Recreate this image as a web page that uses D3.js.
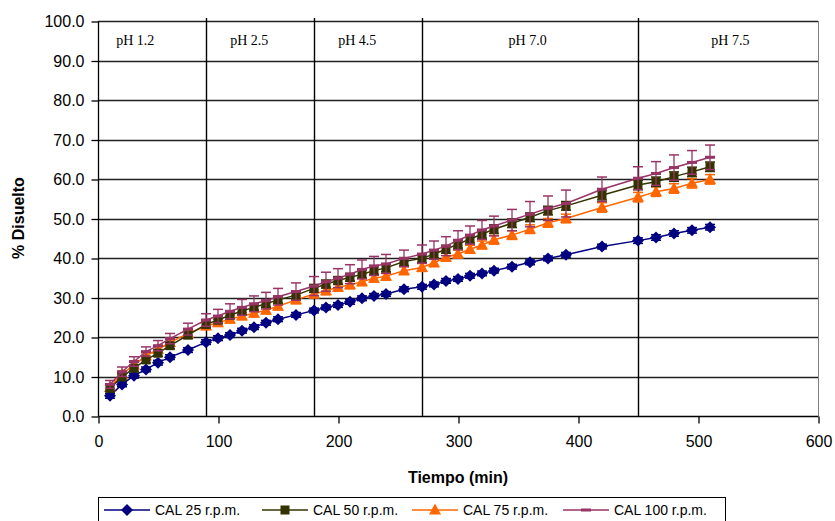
<!DOCTYPE html>
<html><head><meta charset="utf-8">
<script src="https://cdn.jsdelivr.net/npm/d3@7"></script>
<style>body{margin:0;background:#fff}svg{display:block}</style>
</head><body><svg id="c" width="835" height="521"></svg>
<script>
const times = [10,20,30,40,50,60,75,90,100,110,120,130,140,150,165,180,190,200,210,220,230,240,255,270,280,290,300,310,320,330,345,360,375,390,420,450,465,480,495,510];
const cal25 = [5.1,8.0,10.2,11.8,13.5,14.9,16.7,18.7,19.7,20.5,21.6,22.5,23.6,24.5,25.6,26.7,27.5,28.1,28.9,29.8,30.4,30.9,32.1,32.7,33.3,34.2,34.7,35.5,36.1,36.8,37.8,38.9,39.9,40.8,42.9,44.4,45.2,46.2,47.0,47.8];
const cal50 = [7.0,9.9,12.1,14.2,15.9,17.8,20.5,23.2,24.3,25.5,26.6,27.5,28.4,29.4,30.6,32.3,33.4,34.3,35.1,35.9,36.8,37.5,39.1,39.9,41.0,42.2,43.5,44.8,46.0,47.3,48.8,50.3,52.0,53.2,55.9,58.5,59.3,60.6,61.8,63.1];
const cal75 = [7.2,10.6,12.9,15.2,16.9,18.6,20.9,22.8,23.6,24.5,25.3,26.0,26.8,27.8,29.4,30.9,31.7,32.6,33.2,34.0,34.9,35.4,36.8,37.6,38.8,40.2,41.0,42.2,43.3,44.6,45.8,47.3,48.9,50.0,52.8,55.4,56.8,57.6,58.9,59.9];
const cal100 = [8.0,11.2,13.8,16.3,17.8,19.6,22.0,24.3,25.3,26.5,27.5,28.4,29.2,30.2,31.5,32.9,34.0,34.9,35.9,37.1,38.0,38.5,39.9,41.0,42.0,43.0,44.5,45.8,47.1,48.1,49.6,51.1,52.6,53.8,57.4,60.2,61.4,62.9,64.2,65.5];
const sd25 = [0.6,0.6,0.6,0.6,0.6,0.6,0.6,0.6,0.6,0.6,0.6,0.6,0.6,0.6,0.6,0.6,0.6,0.6,0.6,0.6,0.6,0.6,0.6,0.6,0.6,0.6,0.6,0.6,0.6,0.6,0.6,0.6,0.6,0.6,0.6,0.7,0.7,0.7,0.7,0.7];
const sd50 = [0.8,0.8,0.8,0.8,0.8,0.8,0.9,0.9,0.9,0.9,0.9,0.9,0.9,0.9,1.0,1.0,1.0,1.0,1.0,1.0,1.0,1.0,1.0,1.0,1.0,1.0,1.0,1.0,1.0,1.1,1.1,1.1,1.1,1.1,1.2,1.2,1.2,1.2,1.2,1.2];
const sd75 = [0.8,0.8,0.8,0.8,0.8,0.8,0.9,0.9,0.9,0.9,0.9,0.9,0.9,0.9,1.0,1.0,1.0,1.0,1.0,1.0,1.0,1.0,1.0,1.0,1.0,1.0,1.0,1.0,1.0,1.1,1.1,1.1,1.1,1.1,1.2,1.2,1.2,1.2,1.2,1.2];
const sd100 = [1.0,1.2,1.2,1.2,1.3,1.3,1.5,1.6,1.7,1.9,2.0,2.0,2.1,2.1,2.2,2.4,2.4,2.4,2.4,2.4,2.4,2.4,2.1,2.3,2.3,2.4,2.4,2.3,2.4,2.5,2.7,3.2,3.1,3.4,3.1,2.9,3.0,3.2,3.0,3.1];
const seriesNames = ["CAL 25 r.p.m.","CAL 50 r.p.m.","CAL 75 r.p.m.","CAL 100 r.p.m."];
const seriesColors = ["#000080","#333300","#FF6600","#993366"];
const markerTypes = ["diamond","square","triangle","dash"];
const xTicks = [0,100,200,300,400,500,600];
const yTicks = [0,10,20,30,40,50,60,70,80,90,100];
const phBounds = [90,180,270,450];
const phLabels = ["pH 1.2","pH 2.5","pH 4.5","pH 7.0","pH 7.5"];
const phLabelTimes = [31,126,216,358,527];

const svg = d3.select("#c");
const L=98, R=818, T=21, B=416;
const x = d3.scaleLinear().domain([0,600]).range([L,R]);
const y = d3.scaleLinear().domain([0,100]).range([B,T]);

// gridlines
svg.append("g").selectAll("line").data(yTicks.filter(d=>d>0)).join("line")
  .attr("x1",L).attr("x2",R).attr("y1",d=>Math.round(y(d))+0.5).attr("y2",d=>Math.round(y(d))+0.5)
  .attr("stroke","#202020").attr("stroke-width",1.4);
// right border
svg.append("line").attr("x1",R+0.5).attr("x2",R+0.5).attr("y1",T).attr("y2",B).attr("stroke","#808080").attr("stroke-width",1);
// pH lines
svg.append("g").selectAll("line").data(phBounds).join("line")
  .attr("x1",d=>Math.round(x(d))+0.5).attr("x2",d=>Math.round(x(d))+0.5).attr("y1",T-3).attr("y2",B)
  .attr("stroke","#000").attr("stroke-width",1.4);
svg.append("g").selectAll("text").data(phLabels).join("text")
  .attr("x",(d,i)=>x(phLabelTimes[i])).attr("y",45).attr("text-anchor","middle")
  .attr("font-family","'Liberation Serif','Times New Roman',serif").attr("font-size",14).attr("fill","#000")
  .text(d=>d);

// axes
const yAxis = d3.axisLeft(y).tickValues(yTicks).tickSize(7).tickPadding(7).tickFormat(d3.format(".1f"));
const gy = svg.append("g").attr("transform",`translate(${L+0.5},0.5)`).call(yAxis);
const xAxis = d3.axisBottom(x).tickValues(xTicks).tickSize(7).tickPadding(12).tickFormat(d3.format("d"));
const gx = svg.append("g").attr("transform",`translate(0.5,${B+0.5})`).call(xAxis);
[gx,gy].forEach(g=>{
  g.select(".domain").attr("stroke","#000").attr("stroke-width",1.3);
  g.selectAll(".tick line").attr("stroke","#000").attr("stroke-width",1.3);
  g.selectAll("text").attr("font-family","'Liberation Sans',Arial,sans-serif").attr("font-size",16).attr("fill","#000");
});
gx.select(".domain").attr("d",`M${L},0H${R}`);
gy.select(".domain").attr("d",`M0,${T}V${B}`);

svg.append("text").attr("x",458).attr("y",483).attr("text-anchor","middle")
  .attr("font-family","'Liberation Sans',Arial,sans-serif").attr("font-weight","bold").attr("font-size",16).text("Tiempo (min)");
svg.append("text").attr("transform","translate(24,218) rotate(-90)").attr("text-anchor","middle")
  .attr("font-family","'Liberation Sans',Arial,sans-serif").attr("font-weight","bold").attr("font-size",16).text("% Disuelto");

function drawMarker(g, type, color, cx, cy){
  if(type==="diamond") g.append("path").attr("d",`M${cx},${cy-6}L${cx+6},${cy}L${cx},${cy+6}L${cx-6},${cy}Z`).attr("fill",color);
  else if(type==="square") g.append("rect").attr("x",cx-4.5).attr("y",cy-4.5).attr("width",9).attr("height",9).attr("fill",color);
  else if(type==="triangle") g.append("path").attr("d",`M${cx},${cy-6.5}L${cx+6},${cy+4.5}L${cx-6},${cy+4.5}Z`).attr("fill",color);
  else g.append("rect").attr("x",cx-5).attr("y",cy-1.5).attr("width",10).attr("height",3).attr("fill",color);
}

const allVals=[cal25,cal50,cal75,cal100];
const allSd=[sd25,sd50,sd75,sd100];
const line = d3.line().x(d=>x(d[0])).y(d=>y(d[1]));
[0,2,1,3].forEach(si=>{
  const g=svg.append("g");
  const pts=times.map((t,i)=>[t,allVals[si][i]]);
  const col=seriesColors[si];
  pts.forEach((p,i)=>{
    const s=allSd[si][i], cx=x(p[0]);
    g.append("line").attr("x1",cx).attr("x2",cx).attr("y1",y(p[1]+s)).attr("y2",y(p[1]-s)).attr("stroke",col).attr("stroke-width",1.3);
    [p[1]+s,p[1]-s].forEach(v=>g.append("line").attr("x1",cx-5).attr("x2",cx+5).attr("y1",y(v)).attr("y2",y(v)).attr("stroke",col).attr("stroke-width",1.5));
  });
  g.append("path").datum(pts).attr("d",line).attr("fill","none").attr("stroke",col).attr("stroke-width",1.5);
  pts.forEach(p=>drawMarker(g,markerTypes[si],col,x(p[0]),y(p[1])));
});

// legend
const lg=svg.append("g");
lg.append("rect").attr("x",98.5).attr("y",497.5).attr("width",627).attr("height",30).attr("fill","#fff").attr("stroke","#000").attr("stroke-width",1);
const legX=[104,262,412,563];
seriesNames.forEach((n,i)=>{
  const lx=legX[i], ly=510;
  lg.append("line").attr("x1",lx).attr("x2",lx+46).attr("y1",ly).attr("y2",ly).attr("stroke",seriesColors[i]).attr("stroke-width",1.5);
  drawMarker(lg,markerTypes[i],seriesColors[i],lx+23,ly);
  lg.append("text").attr("x",lx+51).attr("y",ly+5).attr("font-family","'Liberation Sans',Arial,sans-serif").attr("font-size",14).text(n);
});
</script></body></html>
